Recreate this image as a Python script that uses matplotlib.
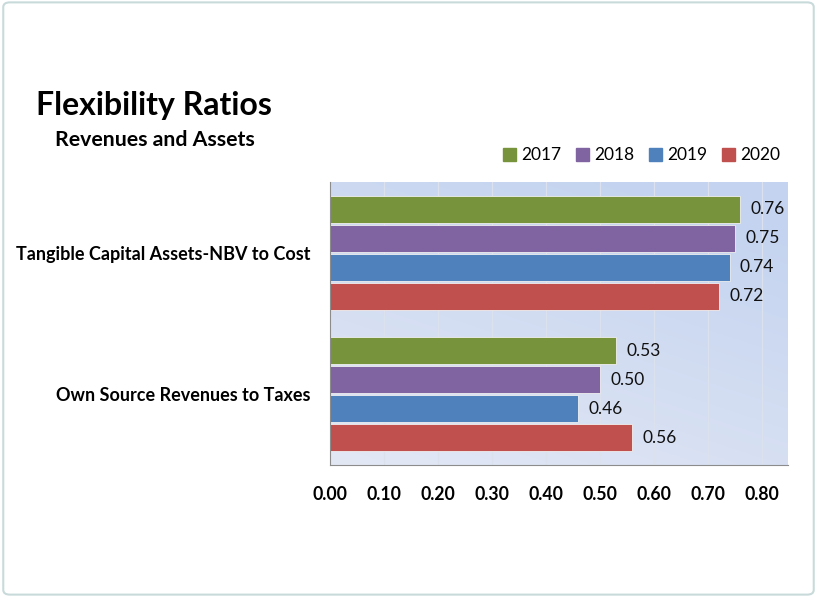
import matplotlib
matplotlib.use("Agg")
import matplotlib.pyplot as plt
import numpy as np
from matplotlib.patches import FancyBboxPatch, Rectangle

plt.rcParams["font.family"] = ["Lato", "DejaVu Sans"]

# data
categories = ["Own Source Revenues to Taxes", "Tangible Capital Assets-NBV to Cost"]
years = ["2017", "2018", "2019", "2020"]
values = {
    "2017": [0.53, 0.76],
    "2018": [0.50, 0.75],
    "2019": [0.46, 0.74],
    "2020": [0.56, 0.72],
}
colors = {"2017": "#77933C", "2018": "#8064A2", "2019": "#4F81BD", "2020": "#C0504D"}
xticks = [0.0, 0.1, 0.2, 0.3, 0.4, 0.5, 0.6, 0.7, 0.8]

fig = plt.figure(figsize=(8.17, 5.97), dpi=100)
fig.patch.set_facecolor("white")

# outer rounded border
fig.patches.append(FancyBboxPatch((0.004, 0.004), 0.992, 0.992, boxstyle="round,pad=0,rounding_size=0.008",
                                  transform=fig.transFigure, facecolor="none",
                                  edgecolor="#c9dada", linewidth=1.5))

ax = fig.add_axes([0.404, 0.221, 0.5605, 0.474])

# gradient background of plot area
gy, gx = np.mgrid[0:1:200j, 0:1:200j]
t = np.clip(0.75 * gy + 0.4 * gx, 0, 1)  # gy=0 bottom row after flip
top = np.array([0.77, 0.83, 0.94])
bot = np.array([0.89, 0.91, 0.96])
img = bot[None, None, :] * (1 - t[..., None]) + top[None, None, :] * t[..., None]
img = img[::-1]
ax.imshow(img, extent=[0, 1, 0, 1], transform=ax.transAxes, aspect="auto", zorder=0)

y = np.arange(len(categories))
h = 0.19
pitch = 0.205
for i, yr in enumerate(years):
    off = (1.5 - i) * pitch
    bars = ax.barh(y + off, values[yr], height=h, color=colors[yr], edgecolor="#f0f0f0",
                   linewidth=0.6, label=yr, zorder=3)
    for b, v in zip(bars, values[yr]):
        ax.text(v + 0.019, b.get_y() + b.get_height() / 2, f"{v:.2f}", va="center", ha="left",
                fontsize=12.5, color="#111111", zorder=4)

ax.set_xlim(0, 0.848)
ax.set_ylim(-0.5, 1.5)
ax.set_xticks(xticks)
ax.set_xticklabels([f"{v:.2f}" for v in xticks], fontsize=12.7, fontweight="bold")
ax.set_yticks(y)
ax.set_yticklabels(categories, fontsize=13, fontweight="bold")
ax.tick_params(axis="x", length=0, pad=15)
ax.tick_params(axis="y", length=0, pad=14)
ax.grid(axis="x", color="#dbe2ee", linewidth=0.9, zorder=1)
ax.set_axisbelow(True)
for s in ["top", "right"]:
    ax.spines[s].set_visible(False)
ax.spines["left"].set_color("#8c8c8c")
ax.spines["bottom"].set_color("#8c8c8c")
ax.spines["left"].set_zorder(5)
ax.spines["bottom"].set_zorder(5)

fig.text(0.189, 0.824, "Flexibility Ratios", ha="center", va="center", fontsize=23, fontweight="bold")
fig.text(0.189, 0.765, "Revenues and Assets", ha="center", va="center", fontsize=15.3, fontweight="bold")

leg = fig.legend(handles=[Rectangle((0, 0), 1, 1, color=colors[yr]) for yr in years], labels=years,
                 loc="center", bbox_to_anchor=(0.785, 0.74), ncol=4, frameon=False, fontsize=12.5,
                 handlelength=0.75, handleheight=0.75, handletextpad=0.3, columnspacing=0.85)

fig.savefig("out.png", dpi=100)
